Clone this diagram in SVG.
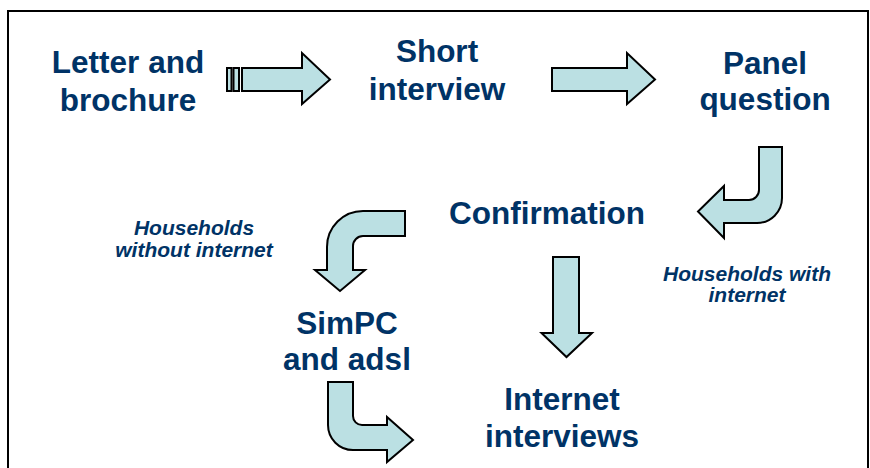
<svg xmlns="http://www.w3.org/2000/svg" width="870" height="468" viewBox="0 0 870 468">
<style>
.n{font-family:"Liberation Sans",Arial,sans-serif;font-weight:bold;font-size:31.5px;fill:#003366;text-anchor:middle}
.l{font-family:"Liberation Sans",Arial,sans-serif;font-weight:bold;font-style:italic;font-size:21px;fill:#003366;text-anchor:middle}
.a{fill:#BBE0E3;stroke:#000;stroke-width:2;stroke-linejoin:miter}
</style>
<rect width="870" height="468" fill="#fff"/>
<rect x="8" y="11" width="860" height="470" fill="none" stroke="#000" stroke-width="2"/>
<g id="connectors">
<g id="c1">
<rect class="a" x="227" y="68" width="4.5" height="23"/>
<rect class="a" x="233.5" y="68" width="5.5" height="23"/>
<path class="a" d="M242,68 L302,68 L302,53 L330,79.5 L302,104 L302,91 L242,91 Z"/>
</g>
<path id="c2" class="a" d="M552,68 L627,68 L627,53 L655,79.5 L627,104 L627,91 L552,91 Z"/>
<path id="c3" class="a" d="M759,147 L782,147 L782,198 A25,25 0 0 1 757,223 L724,223 L724,238 L698,211.5 L724,186 L724,200 L749,200 A10,10 0 0 0 759,190 Z"/>
<path id="c4" class="a" d="M405,211 L363,211 A36,36 0 0 0 327,247 L327,270 L315,270 L340,291 L365,270 L353,270 L353,246 A10,10 0 0 1 363,236 L405,236 Z"/>
<path id="c5" class="a" d="M553,257 L579,257 L579,333 L592,333 L566.5,357 L541.5,333 L553,333 Z"/>
<path id="c6" class="a" d="M328,382 L353,382 L353,416 A9,9 0 0 0 362,425 L387,425 L387,417 L413,440 L387,462 L387,450 L353,450 A25,25 0 0 1 328,425 Z"/>
<text class="l" x="194" y="235">Households</text>
<text class="l" x="194" y="257">without internet</text>
<text class="l" x="747" y="281">Households with</text>
<text class="l" x="747" y="302">internet</text>
</g>
<g id="letter"><text class="n" x="128" y="73">Letter and</text><text class="n" x="128" y="111">brochure</text></g>
<g id="short"><text class="n" x="437" y="62">Short</text><text class="n" x="437" y="100">interview</text></g>
<g id="panel"><text class="n" x="765" y="74">Panel</text><text class="n" x="765" y="110">question</text></g>
<g id="confirmation"><text class="n" x="547" y="224">Confirmation</text></g>
<g id="simpc"><text class="n" x="347" y="334">SimPC</text><text class="n" x="347" y="370">and adsl</text></g>
<g id="internet"><text class="n" x="562" y="410">Internet</text><text class="n" x="562" y="447">interviews</text></g>
</svg>
